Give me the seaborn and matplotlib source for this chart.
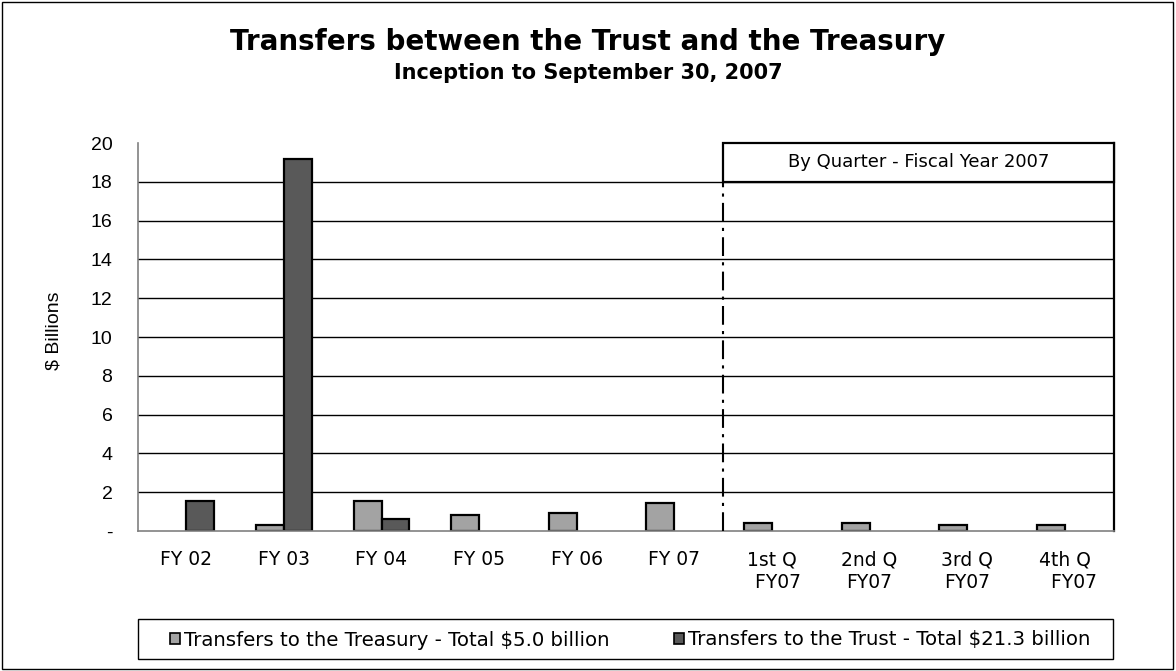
import matplotlib
matplotlib.use("Agg")
import matplotlib.pyplot as plt
import seaborn as sns
import pandas as pd
import numpy as np
from matplotlib.patches import Rectangle, Patch

# ---------------- data ----------------
categories = ["FY 02", "FY 03", "FY 04", "FY 05", "FY 06", "FY 07",
              "1st Q FY07", "2nd Q FY07", "3rd Q FY07", "4th Q FY07"]
tick_labels = ["FY 02", "FY 03", "FY 04", "FY 05", "FY 06", "FY 07",
               "1st Q\n  FY07", "2nd Q\nFY07", "3rd Q\nFY07", "4th Q\n   FY07"]
to_treasury = [None, 0.29, 1.55, 0.84, 0.93, 1.44, 0.43, 0.43, 0.31, 0.31]
to_trust = [1.55, 19.2, 0.62, None, None, None, None, None, None, None]
series_names = ["Transfers to the Treasury - Total $5.0 billion",
                "Transfers to the Trust - Total $21.3 billion"]
y_ticks = [0, 2, 4, 6, 8, 10, 12, 14, 16, 18, 20]
y_tick_labels = ["-", "2", "4", "6", "8", "10", "12", "14", "16", "18", "20"]

df = pd.DataFrame({
    "category": categories * 2,
    "value": to_treasury + to_trust,
    "series": [series_names[0]] * len(categories) + [series_names[1]] * len(categories),
}).dropna()

colors = ["#A3A3A3", "#595959"]

# ---------------- figure ----------------
sns.set_theme(style="white")
plt.rcParams["font.family"] = ["DejaVu Sans"]
plt.rcParams["text.color"] = "black"
plt.rcParams["xtick.labelcolor"] = "black"
plt.rcParams["ytick.labelcolor"] = "black"
plt.rcParams["axes.labelcolor"] = "black"

W, H = 1176, 671
fig = plt.figure(figsize=(W / 100, H / 100), dpi=100)
ax = fig.add_axes([137.5 / W, 140 / H, 976 / W, 388 / H])

sns.barplot(data=df, x="category", y="value", hue="series", order=categories,
            hue_order=series_names, palette=colors, width=0.57,
            edgecolor="black", linewidth=1.6, saturation=1, legend=False, ax=ax)

ax.set_xlim(-0.5, len(categories) - 0.5)
ax.set_ylim(0, 20)

# y axis
ax.set_yticks(y_ticks)
ax.set_yticklabels(y_tick_labels, fontsize=14, family=["Liberation Sans", "DejaVu Sans"])
for yv in y_ticks[1:-1]:
    ax.axhline(yv, color="black", linewidth=1.0, zorder=0.5)

# x ticks: marks at boundaries, labels at centers
ax.set_xticks(np.arange(len(categories) + 1) - 0.5)
ax.set_xticklabels([])
ax.set_xticks(np.arange(len(categories)), minor=True)
ax.set_xticklabels(tick_labels, minor=True, fontsize=13.5, linespacing=1.25,
                   va="top")
ax.tick_params(axis="x", which="minor", length=0, pad=14)
ax.tick_params(axis="x", which="major", length=6, width=1, color="#808080", direction="out")
ax.tick_params(axis="y", length=6, width=1, color="#808080", direction="out", pad=12)

ax.set_xlabel("")
ax.set_ylabel("$ Billions", fontsize=14, family=["Liberation Sans", "DejaVu Sans"])
ax.yaxis.set_label_coords((62 - 137.5) / 976, (531 - 331) / 388)

for side in ["left", "bottom"]:
    ax.spines[side].set_visible(True)
    ax.spines[side].set_color("#808080")
    ax.spines[side].set_linewidth(1.2)
ax.spines["top"].set_visible(False)
ax.spines["right"].set_visible(True)
ax.spines["right"].set_color("black")
ax.spines["right"].set_linewidth(1.6)

# separator line between annual and quarterly data
ax.plot([5.5, 5.5], [0, 18], color="black", linewidth=1.5,
        linestyle=(0, (9, 3, 1.5, 3)), zorder=3)

# quarter header box
ax.add_patch(Rectangle((5.5, 18), 4.0, 2.0, facecolor="white", edgecolor="black",
                       linewidth=1.6, zorder=4, clip_on=False))
ax.text(7.5, 19.0, "By Quarter - Fiscal Year 2007", ha="center", va="center",
        fontsize=13, zorder=5)

# titles
fig.text(0.5, 1 - 42 / H, "Transfers between the Trust and the Treasury", ha="center",
         va="center", fontsize=20, fontweight="bold")
fig.text(0.5, 1 - 73 / H, "Inception to September 30, 2007", ha="center", va="center",
         fontsize=15, fontweight="bold")

# legend
handles = [Patch(facecolor=c, edgecolor="black", linewidth=1.2) for c in colors]
leg = fig.legend(handles, series_names, loc="center left",
                 bbox_to_anchor=(170 / W, 1 - 640 / H), ncol=2,
                 fontsize=14.2, frameon=False, handlelength=0.5,
                 handleheight=0.5, handletextpad=0.2, columnspacing=3.3,
                 borderpad=0, borderaxespad=0)
fig.add_artist(Rectangle((137.5 / W, 1 - 659 / H), 975.5 / W, 40 / H,
                         transform=fig.transFigure, fill=False, edgecolor="black",
                         linewidth=1.0))

# outer border
fig.add_artist(Rectangle((2 / W, 2 / H), 1171 / W, 667 / H,
                         transform=fig.transFigure, fill=False, edgecolor="black",
                         linewidth=1.0))

fig.savefig("out.png", dpi=100)
